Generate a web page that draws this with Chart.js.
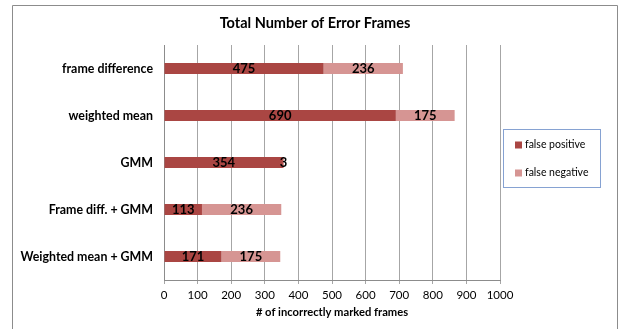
<!DOCTYPE html>
<html>
<head>
<meta charset="utf-8">
<script src="https://cdn.jsdelivr.net/npm/chart.js@4"></script>
<style>
    body { margin: 0; background: #fff; }
    #wrap { width: 624px; height: 329px; }
</style>
</head>
<body>
<div id="wrap"><canvas id="errorChart" width="624" height="329"></canvas></div>
<script>
// chart data
const methods = ['frame difference', 'weighted mean', 'GMM', 'Frame diff. + GMM', 'Weighted mean + GMM'];
const falsePositive = [475, 690, 354, 113, 171];
const falseNegative = [236, 175, 3, 236, 175];
const seriesNames = ['false positive', 'false negative'];
const seriesColors = ['#aa4643', '#d69593'];
const chartTitle = 'Total Number of Error Frames';

const FONT = 'Lato, "Liberation Sans", sans-serif';

// draws outer frame, title, numbers on bars and the boxed legend
const extrasPlugin = {
    id: 'extras',
    beforeDraw(chart) {
        let ctx = chart.ctx;
        ctx.save();
        ctx.strokeStyle = '#8c8c8c';
        ctx.lineWidth = 1;
        ctx.beginPath();
        ctx.moveTo(12.5, 335);
        ctx.lineTo(12.5, 5.5);
        ctx.lineTo(617.5, 5.5);
        ctx.lineTo(617.5, 335);
        ctx.stroke();
        ctx.font = 'bold 14.5px ' + FONT;
        ctx.fillStyle = '#000';
        ctx.textAlign = 'center';
        ctx.textBaseline = 'middle';
        ctx.fillText(chartTitle, 315, 23);
        ctx.restore();
    },
    afterDatasetsDraw(chart) {
        let ctx = chart.ctx;
        ctx.save();
        ctx.font = 'bold 13px ' + FONT;
        ctx.fillStyle = '#000';
        ctx.textAlign = 'center';
        ctx.textBaseline = 'middle';
        chart.data.datasets.forEach((ds, i) => {
            chart.getDatasetMeta(i).data.forEach((bar, j) => {
                let cx = (bar.x + bar.base) / 2;
                ctx.fillText(String(ds.data[j]), cx, bar.y + 0.5);
            });
        });
        ctx.restore();
    },
    afterDraw(chart) {
        let ctx = chart.ctx;
        ctx.save();
        ctx.strokeStyle = '#86a2d2';
        ctx.lineWidth = 1;
        ctx.strokeRect(503.5, 129.5, 97, 58);
        ctx.font = '10.5px ' + FONT;
        ctx.textBaseline = 'middle';
        chart.data.datasets.forEach((ds, i) => {
            let y = 145 + i * 28;
            ctx.fillStyle = ds.backgroundColor;
            ctx.fillRect(515, y - 3.5, 7, 7);
            ctx.fillStyle = '#000';
            ctx.fillText(ds.label, 525, y);
        });
        ctx.restore();
    }
};

new Chart(document.getElementById('errorChart'), {
    type: 'bar',
    data: {
        labels: methods,
        datasets: [
            { label: seriesNames[0], data: falsePositive, backgroundColor: seriesColors[0] },
            { label: seriesNames[1], data: falseNegative, backgroundColor: seriesColors[1] }
        ]
    },
    options: {
        indexAxis: 'y',
        responsive: false,
        animation: false,
        layout: { padding: { left: 0, right: 124, top: 45, bottom: 0 } },
        datasets: {
            bar: { barPercentage: 0.235, categoryPercentage: 1 }
        },
        plugins: {
            legend: { display: false },
            tooltip: { enabled: false },
            title: { display: false }
        },
        scales: {
            x: {
                stacked: true,
                min: 0,
                max: 1000,
                ticks: {
                    stepSize: 100,
                    color: '#000',
                    padding: 4,
                    maxRotation: 0,
                    minRotation: 0,
                    autoSkip: false,
                    font: { family: FONT, size: 11.5 },
                    callback: value => String(value)
                },
                grid: { color: '#a6a6a6', tickLength: 4 },
                border: { color: '#8c8c8c' },
                title: {
                    display: true,
                    text: '# of incorrectly marked frames',
                    color: '#000',
                    font: { family: FONT, size: 11.2, weight: 'bold' },
                    padding: { top: 4, bottom: 10 }
                },
                afterFit(scale) { scale.height = 49; }
            },
            y: {
                stacked: true,
                ticks: {
                    color: '#000',
                    padding: 3,
                    font: { family: FONT, size: 12.4, weight: 'bold' }
                },
                grid: { display: false },
                border: { display: true, color: '#8c8c8c' },
                afterFit(scale) { scale.width = 164; }
            }
        }
    },
    plugins: [extrasPlugin]
});
</script>
</body>
</html>
